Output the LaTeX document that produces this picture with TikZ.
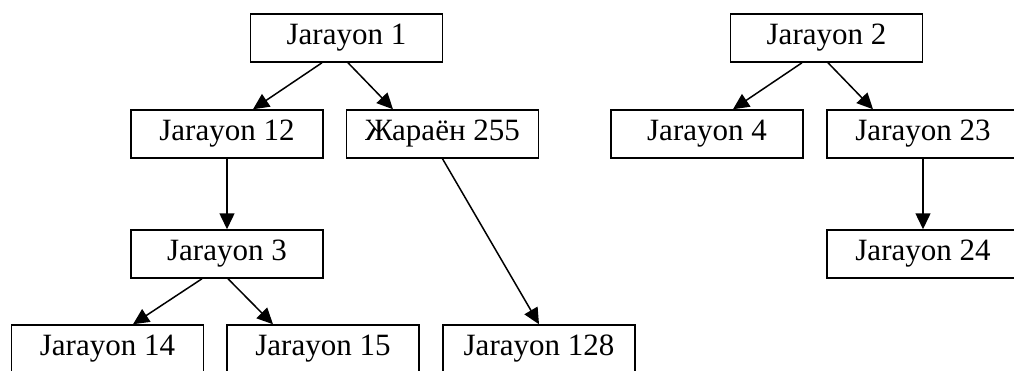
\documentclass[tikz,border=0pt]{standalone}
\usepackage{fontspec}
\setmainfont{Liberation Serif}
\usetikzlibrary{arrows.meta}

\tikzset{
  procbox/.style={draw=black, line width=1.5pt, rectangle, minimum width=192pt,
    minimum height=48pt, inner sep=0pt, font=\fontsize{31}{37}\selectfont},
  link/.style={line width=1.5pt, -{Triangle[length=16pt,width=15pt]}}
}

\begin{document}
\begin{tikzpicture}[x=1pt, y=-1pt]
  \useasboundingbox (0,0) rectangle (1014,370);
  \clip (0,0) rectangle (1014,370);

  % first tree
  \node[procbox] (j1)   at (346.5,38)  {Jarayon 1};
  \node[procbox] (j12)  at (227,134)   {Jarayon 12};
  \node[procbox] (p255) at (442.5,134) {Жараён 255};
  \node[procbox] (j3)   at (227,254)   {Jarayon 3};
  \node[procbox] (j14)  at (107.5,349) {Jarayon 14};
  \node[procbox] (j15)  at (323,349)   {Jarayon 15};
  \node[procbox] (j128) at (539,349)   {Jarayon 128};

  % second tree
  \node[procbox] (j2)   at (826.5,38)  {Jarayon 2};
  \node[procbox] (j4)   at (707,134)   {Jarayon 4};
  \node[procbox] (j23)  at (923,134)   {Jarayon 23};
  \node[procbox] (j24)  at (923,254)   {Jarayon 24};

  % connectors
  \draw[link] ([xshift=-24.5pt]j1.south) -- ([xshift=26pt]j12.north);
  \draw[link] ([xshift=1.5pt]j1.south) -- ([xshift=-49.5pt]p255.north);
  \draw[link] (j12.south) -- (j3.north);
  \draw[link] (p255.south) -- (j128.north);
  \draw[link] ([xshift=-25pt]j3.south) -- ([xshift=25.5pt]j14.north);
  \draw[link] ([xshift=1pt]j3.south) -- ([xshift=-50pt]j15.north);

  \draw[link] ([xshift=-24.5pt]j2.south) -- ([xshift=26pt]j4.north);
  \draw[link] ([xshift=1.5pt]j2.south) -- ([xshift=-50pt]j23.north);
  \draw[link] (j23.south) -- (j24.north);
\end{tikzpicture}
\end{document}
